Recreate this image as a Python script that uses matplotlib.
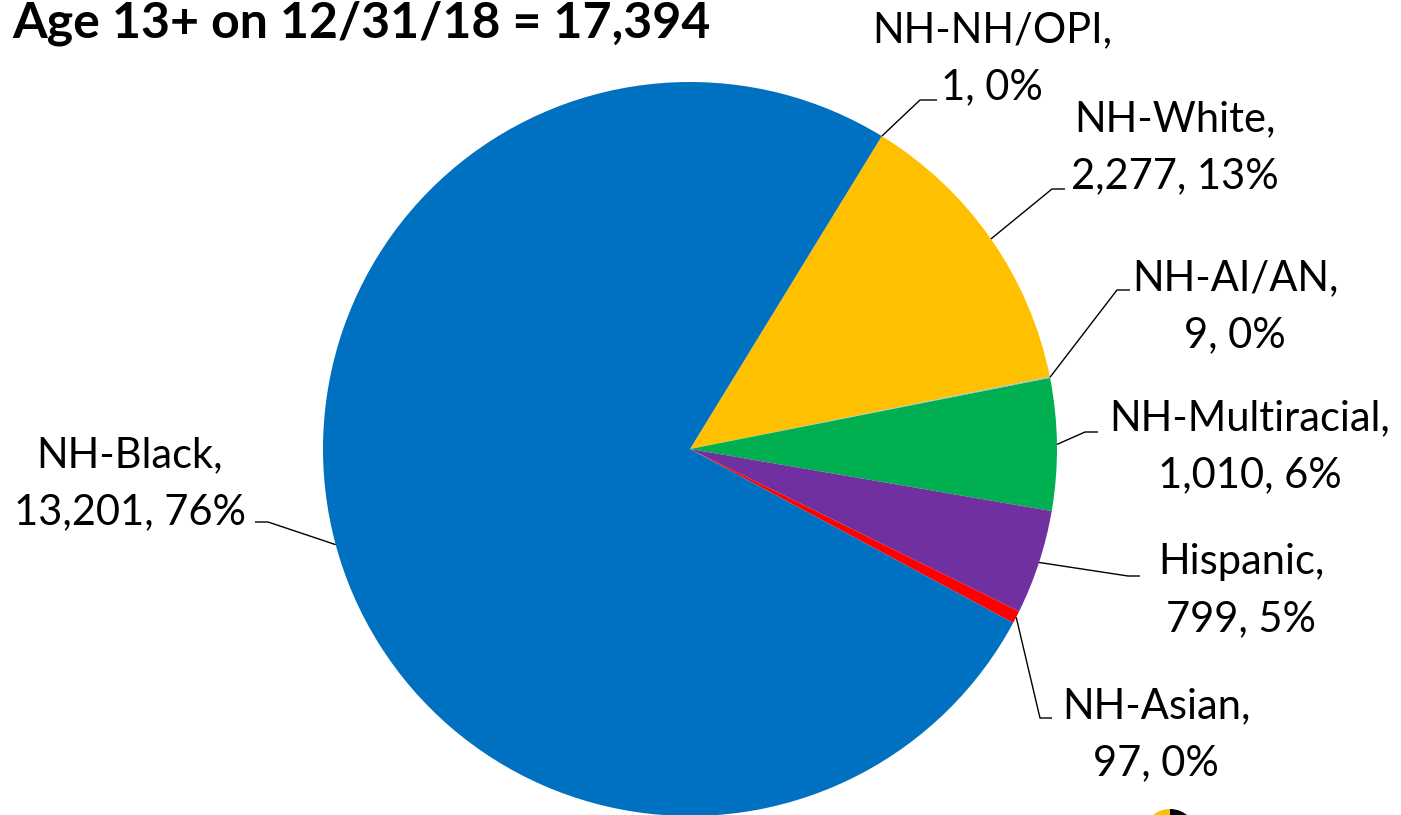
import numpy as np
import matplotlib
matplotlib.use("Agg")
import matplotlib.pyplot as plt
from matplotlib.patches import Wedge

# data, clockwise from the top-right boundary
groups = ["NH-NH/OPI", "NH-White", "NH-AI/AN", "NH-Multiracial",
          "Hispanic", "NH-Asian", "NH-Black"]
counts = [1, 2277, 9, 1010, 799, 97, 13201]
pcts = ["0%", "13%", "0%", "6%", "5%", "0%", "76%"]
colors = ["#002060", "#FFC000", "#9DC3E6", "#00B050",
          "#7030A0", "#FF0000", "#0070C0"]
title = "Age 13+ on 12/31/18 = 17,394"

W, H = 1401, 815
cx, cy, R = 690, 449, 367

# label block centres and leader elbows (image pixels)
lab_pos = [(992, 59), (1175, 148), (1235, 307), (1250, 447),
           (1241, 591), (1156, 735), (130, 484)]
elbow = [(920, 100, 937), (1052, 189, 1065), (1117, 290, 1130),
         (1085, 432, 1098), (1128, 576, 1140), (1040, 718, 1052),
         (268, 522, 255)]

plt.rcParams["font.family"] = ["Lato", "DejaVu Sans"]
fig = plt.figure(figsize=(W / 100, H / 100), dpi=100)
ax = fig.add_axes([0, 0, 1, 1])

wedges, _ = ax.pie(counts, colors=colors, startangle=58.5, counterclock=False,
                   radius=1.0, wedgeprops=dict(linewidth=0))
ax.set_xlim(-cx / R, (W - cx) / R)
ax.set_ylim(-(H - cy) / R, cy / R)
ax.set_aspect("equal")
ax.axis("off")


def px2d(x, y):
    return (x - cx) / R, (cy - y) / R


for i, w in enumerate(wedges):
    mid = np.deg2rad((w.theta1 + w.theta2) / 2)
    ax0, ay0 = np.cos(mid), np.sin(mid)
    ex, ey, tx = elbow[i]
    x1, y1 = px2d(ex, ey)
    x2, _ = px2d(tx, ey)
    ax.plot([ax0, x1, x2], [ay0, y1, y1], color="black", lw=1.0,
            solid_capstyle="butt")
    lx, ly = lab_pos[i]
    fig.text(lx / W, 1 - ly / H, f"{groups[i]},\n{counts[i]:,}, {pcts[i]}",
             ha="center", va="center", multialignment="center",
             fontsize=30, linespacing=1.62, color="black")

# edge of a neighbouring chart peeking in at the bottom
sc = px2d(1170, 836)
ax.add_patch(Wedge(sc, 27 / R, 90, 180, color="#FFC000", lw=0))
ax.add_patch(Wedge(sc, 27 / R, 45, 90, color="black", lw=0))

fig.text(12 / W, 1 - 37 / H, title, ha="left", va="baseline",
         fontsize=36, fontweight="bold", color="black")

fig.savefig("out.png", dpi=100)
